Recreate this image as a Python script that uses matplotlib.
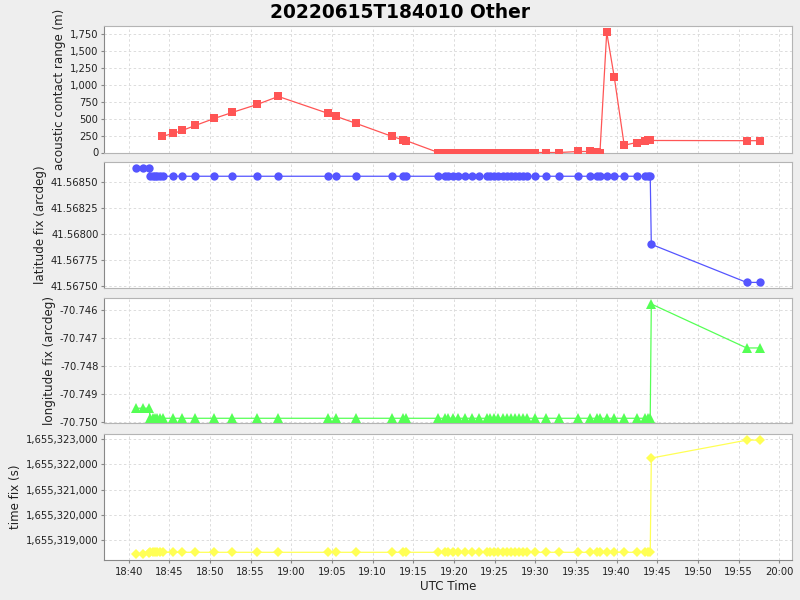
import matplotlib
matplotlib.use('Agg')
import matplotlib.pyplot as plt
import matplotlib.dates as mdates
import matplotlib.ticker as mticker
import pandas as pd

DAY = "2022-06-15 "

# --- fix series (latitude / longitude / time fix) ---------------------------
FIX_TIMES = [
    "18:40:54", "18:41:43", "18:42:32", "18:42:37", "18:42:56", "18:43:14",
    "18:43:32", "18:43:51", "18:44:13", "18:45:29", "18:46:35", "18:48:11",
    "18:50:32", "18:52:44", "18:55:49", "18:58:24", "19:04:33", "19:05:32",
    "19:07:59", "19:12:25", "19:13:46", "19:14:08", "19:18:04", "19:18:53",
    "19:19:18", "19:19:55", "19:20:32", "19:21:21", "19:22:11", "19:23:07",
    "19:24:01", "19:24:26", "19:24:55", "19:25:27", "19:25:59", "19:26:29",
    "19:26:58", "19:27:30", "19:28:02", "19:28:31", "19:28:56", "19:29:58",
    "19:31:19", "19:32:57", "19:35:17", "19:36:43", "19:37:33", "19:37:57",
    "19:38:47", "19:39:43", "19:40:56", "19:42:28", "19:43:29", "19:43:53",
    "19:44:08", "19:44:16", "19:55:59", "19:57:38",
]
LAT = [41.568635] * 3 + [41.568558] * 52 + [41.567904, 41.567538, 41.567538]
LON = [-70.74952] * 3 + [-70.74988] * 52 + [-70.745785, -70.74736, -70.74736]
TFIX = [1655318433, 1655318440, 1655318472] + [1655318512] * 52 + \
       [1655322254, 1655322965, 1655322970]

# --- acoustic contact range -------------------------------------------------
RANGE_TIMES = [
    "18:44:04", "18:45:29", "18:46:35", "18:48:11", "18:50:32", "18:52:44",
    "18:55:49", "18:58:24", "19:04:33", "19:05:32", "19:07:59", "19:12:25",
    "19:13:46", "19:14:08",
    "19:18:04", "19:18:53", "19:19:18", "19:19:55", "19:20:32", "19:21:21",
    "19:22:11", "19:23:07", "19:24:01", "19:24:26", "19:24:55", "19:25:27",
    "19:25:59", "19:26:29", "19:26:58", "19:27:30", "19:28:02", "19:28:31",
    "19:28:56", "19:29:58", "19:31:19", "19:32:57",
    "19:35:17", "19:36:43", "19:37:33", "19:37:57",
    "19:38:47", "19:39:43", "19:40:56", "19:42:28", "19:43:29", "19:43:53",
    "19:44:08", "19:55:59", "19:57:38",
]
RANGE_M = [237, 282, 326, 400, 504, 593, 712, 830, 578, 534, 430, 237, 185, 175] + \
          [0] * 22 + [15, 15, 12, 0] + \
          [1779, 1112, 108, 148, 175, 178, 178, 175, 175]

fix_t = pd.to_datetime([DAY + t for t in FIX_TIMES])
rng_t = pd.to_datetime([DAY + t for t in RANGE_TIMES])

BG = "#EEEEEE"
fig = plt.figure(figsize=(8, 6), dpi=100, facecolor=BG)


def px_axes(top, bottom, left=104, right=792):
    return fig.add_axes([left / 800, 1 - bottom / 600,
                         (right - left) / 800, (bottom - top) / 600])


panels = [
    (26, 152.5, rng_t, RANGE_M, "#FF5555", "s", 5.6, "acoustic contact range (m)",
     (0, 1873), 250, lambda v, p: f"{v:,.0f}"),
    (162.3, 287.7, fix_t, LAT, "#5555FF", "o", 6.0, "latitude fix (arcdeg)",
     (41.567487, 41.568692), 0.00025, lambda v, p: f"{v:.5f}"),
    (298, 423.3, fix_t, LON, "#55FF55", "^", 6.6, "longitude fix (arcdeg)",
     (-70.75006, -70.74557), 0.001, lambda v, p: f"{v:.3f}"),
    (433.5, 560, fix_t, TFIX, "#FFFF55", "D", 4.8, "time fix (s)",
     (1655318206, 1655323230), 1000, lambda v, p: f"{v:,.0f}"),
]

xmin = pd.Timestamp(DAY + "18:36:58")
xmax = pd.Timestamp(DAY + "20:01:34")

axes = []
for i, (top, bot, t, vals, col, mk, ms, lab, ylim, step, fmt) in enumerate(panels):
    ax = px_axes(top, bot)
    ax.set_facecolor("white")
    ax.plot(t, vals, color=col, lw=0.9, marker=mk, markersize=ms,
            markeredgewidth=0, zorder=3)
    ax.set_xlim(xmin, xmax)
    ax.set_ylim(*ylim)
    ax.yaxis.set_major_locator(mticker.MultipleLocator(step))
    ax.yaxis.set_major_formatter(mticker.FuncFormatter(fmt))
    ax.xaxis.set_major_locator(mdates.MinuteLocator(byminute=range(0, 60, 5)))
    ax.xaxis.set_major_formatter(mdates.DateFormatter("%H:%M"))
    ax.grid(True, color="#DCDCDC", lw=0.7, linestyle=(0, (2.5, 2.5)))
    ax.set_axisbelow(True)
    for side in ("top", "right", "bottom"):
        ax.spines[side].set_color("#B4B4B4")
    ax.spines["left"].set_color("#888888")
    ax.tick_params(axis="y", labelsize=7.2, length=2, color="#888888",
                   labelcolor="#222222", pad=2)
    ax.set_ylabel(lab, fontsize=8.6, color="#222222", labelpad=3)
    if i < len(panels) - 1:
        ax.tick_params(axis="x", length=0, labelbottom=False)
    else:
        ax.spines["bottom"].set_color("#888888")
        ax.tick_params(axis="x", labelsize=7.2, length=2, color="#888888",
                       labelcolor="#222222", pad=3)
        ax.set_xlabel("UTC Time", fontsize=8.6, color="#222222", labelpad=2)
    axes.append(ax)

fig.text(0.5, 1 - 12 / 600, "20220615T184010 Other", fontsize=13.4,
         fontweight="bold", ha="center", va="center")

fig.savefig("out.png", dpi=100, facecolor=BG)
